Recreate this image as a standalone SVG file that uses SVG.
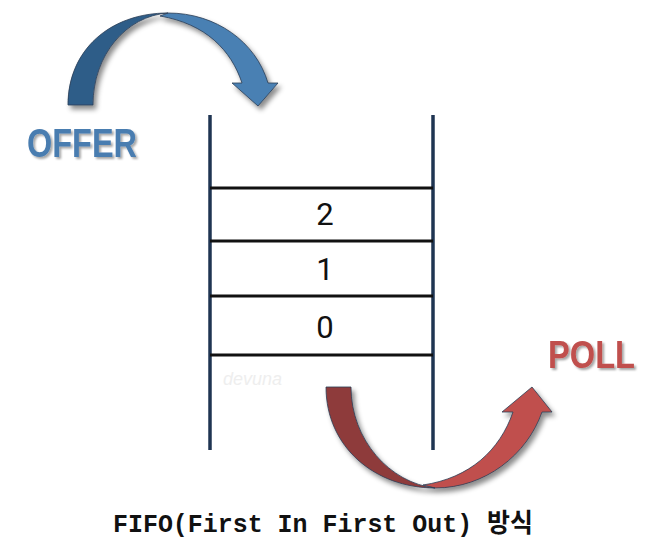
<svg xmlns="http://www.w3.org/2000/svg" width="652" height="544" viewBox="0 0 652 544">
<defs>
<filter id="sh" x="-20%" y="-20%" width="150%" height="150%">
<feGaussianBlur in="SourceAlpha" stdDeviation="2.5"/>
<feOffset dx="3" dy="4" result="b"/>
<feFlood flood-color="#000" flood-opacity="0.45"/>
<feComposite in2="b" operator="in"/>
<feMerge><feMergeNode/><feMergeNode in="SourceGraphic"/></feMerge>
</filter>
<filter id="tsh" x="-10%" y="-20%" width="130%" height="150%">
<feGaussianBlur in="SourceAlpha" stdDeviation="1.2"/>
<feOffset dx="2" dy="2" result="b"/>
<feFlood flood-color="#000" flood-opacity="0.35"/>
<feComposite in2="b" operator="in"/>
<feMerge><feMergeNode/><feMergeNode in="SourceGraphic"/></feMerge>
</filter>
</defs>
<style>
.post{stroke:#1f3552;stroke-width:3.5;fill:none}
.row{stroke:#111;stroke-width:3;fill:none}
.num{font-family:Roboto,"Liberation Sans",sans-serif;font-size:31px;fill:#111;text-anchor:middle}
.lbl{font-family:"Liberation Sans",Arial,sans-serif;font-weight:bold}
.edge{stroke:#2b3e55;stroke-width:0.8;stroke-linejoin:round}
</style>
<rect width="652" height="544" fill="#fff"/>
<g id="queue">
<line class="post" x1="210" y1="115" x2="210" y2="450"/>
<line class="post" x1="433" y1="115" x2="433" y2="450"/>
<line class="row" x1="210" y1="188" x2="433" y2="188"/>
<line class="row" x1="210" y1="241" x2="433" y2="241"/>
<line class="row" x1="210" y1="296" x2="433" y2="296"/>
<line class="row" x1="210" y1="355" x2="433" y2="355"/>
<text class="num" x="325" y="225">2</text>
<text class="num" x="325" y="280">1</text>
<text class="num" x="325" y="338">0</text>
<text x="223" y="385" font-family="Liberation Sans,sans-serif" font-style="italic" font-size="18" fill="#eeeeee">devuna</text>
</g>
<g id="offer">
<g filter="url(#sh)">
<path class="edge" fill="#4a80b3" d="M168 13 C216 13 256 42 268 83 L278 83 L258 106 L232 83 L242 83 C231 50 206 24 160 16 Z"/>
<path class="edge" fill="#2f5d88" d="M68 105 C68 50 110 13 168 13 C126 16 93 55 93 105 Z"/>
</g>
<text class="lbl" x="27" y="157" font-size="41" fill="#4a7db0" textLength="110" lengthAdjust="spacingAndGlyphs" filter="url(#tsh)">OFFER</text>
</g>
<g id="poll">
<g filter="url(#sh)">
<path class="edge" fill="#c0504d" d="M435 488 C485 488 527 455 542 412 L552 412 L532 387 L502 412 L513 412 C500 450 470 478 423 485 Z"/>
<path class="edge" fill="#8e3a3a" d="M326 387 C326 447 375 488 435 488 C390 483 351 440 351 387 Z"/>
</g>
<text class="lbl" x="548" y="368" font-size="38" fill="#c0504d" textLength="87" lengthAdjust="spacingAndGlyphs" filter="url(#tsh)">POLL</text>
</g>
<g id="caption">
<text x="113" y="532" font-family="Liberation Mono,'Noto Sans CJK KR',monospace" font-weight="bold" font-size="26" fill="#111" textLength="420" lengthAdjust="spacingAndGlyphs">FIFO(First In First Out) 방식</text>
</g>
</svg>
